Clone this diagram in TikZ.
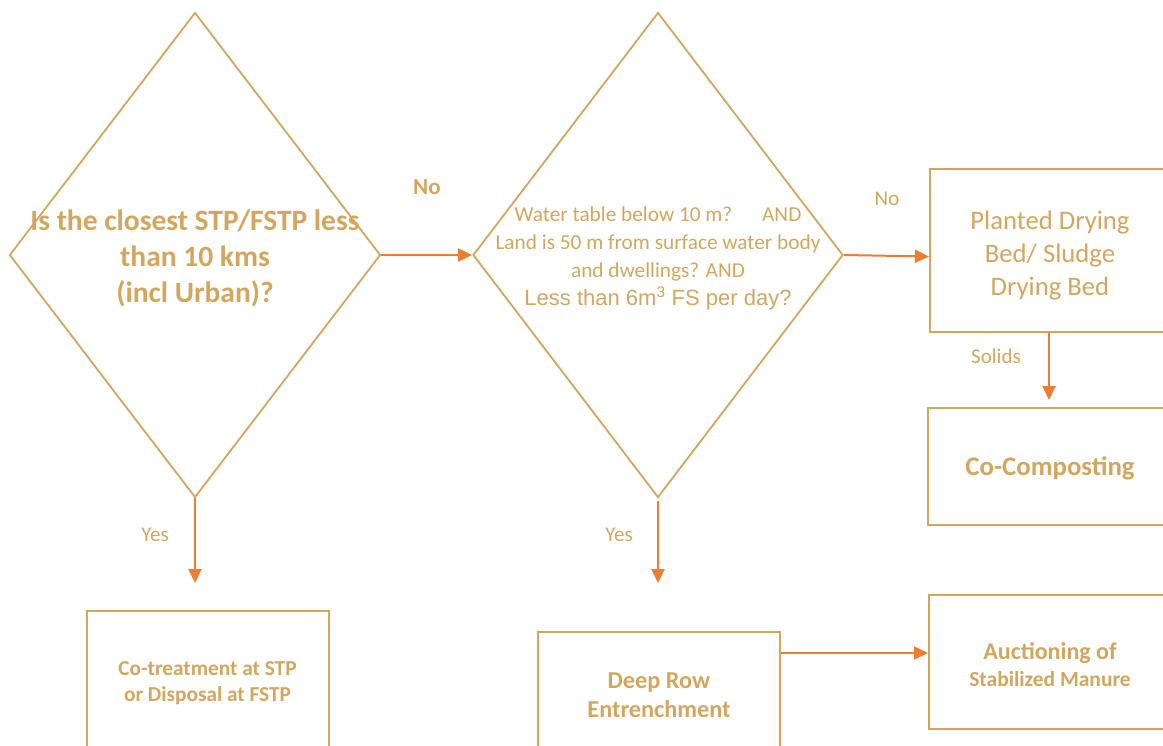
\documentclass[tikz,border=0pt]{standalone}
\usepackage{fontspec}
\setmainfont{Carlito}
\newfontfamily\arialfont{Liberation Sans}
\usetikzlibrary{arrows.meta,shapes.geometric}

\definecolor{tan}{RGB}{211,166,94}
\definecolor{flowor}{RGB}{237,125,49}

\newcommand{\topstrut}[1]{\rule{0pt}{#1}}

\tikzset{
  question/.style={diamond,draw=tan,line width=1.8pt,inner sep=0pt},
  stagebox/.style={rectangle,draw=tan,line width=2pt,text=tan,align=center,
    minimum width=242pt},
  flow/.style={draw=flowor,line width=2pt,-{Triangle[length=14pt,width=13pt]}},
  lbl/.style={text=tan,font=\fontsize{21}{24}\selectfont}
}

\begin{document}
\begin{tikzpicture}[x=1pt,y=-1pt]
    \useasboundingbox (0,0) rectangle (1163,745);

    % decisions
    \node[question,minimum width=371pt,minimum height=485pt] (q1) at (195,255) {};
    \node[text=tan,align=center,font=\bfseries\fontsize{29.5}{36}\selectfont] (q1txt) at (195,258)
      {Is the closest STP/FSTP less\\than 10 kms\\(incl Urban)?};
    \node[question,minimum width=370pt,minimum height=485pt] (q2) at (658,255) {};
    \node[text=tan,align=center,font=\fontsize{21.3}{28}\selectfont] (q2txt) at (658,258)
      {Water table below 10 m?\hspace{1.4em}AND\\Land is 50 m from surface water body\\
       and dwellings? AND\\{\arialfont\fontsize{22}{28}\selectfont Less than 6m\textsuperscript{3} FS per day?}};

    % outcomes
    \node[stagebox,minimum width=242pt,minimum height=136pt,
      font=\bfseries\fontsize{21.3}{26}\selectfont] (cotreat) at (207.5,679)
      {\topstrut{21.5pt}Co-treatment at STP\\or Disposal at FSTP};
    \node[stagebox,minimum height=123pt,
      font=\bfseries\fontsize{24.3}{29}\selectfont] (deep) at (659,693.5)
      {\topstrut{20pt}Deep Row\\Entrenchment};
    \node[stagebox,minimum width=240pt,minimum height=163pt,
      font=\fontsize{26.7}{33}\selectfont] (planted) at (1050,250.5)
      {\topstrut{28.5pt}Planted Drying\\Bed/ Sludge\\Drying Bed};
    \node[stagebox,minimum width=244pt,minimum height=117pt,text height=23pt,
      font=\bfseries\fontsize{26.8}{30}\selectfont] (compost) at (1050,466.5)
      {Co-Composting};
    \node[stagebox,minimum width=242pt,minimum height=134pt,
      font=\bfseries\fontsize{24}{27}\selectfont] (auction) at (1050,662)
      {\topstrut{22.5pt}Auctioning of\\{\fontsize{21.5}{27}\selectfont Stabilized Manure}};

    \coordinate (yes1) at (195,583);
    \coordinate (yes2) at (658,583);

    \draw[flow] (q1.east) -- (q2.west);
    \draw[flow] (q2.east) -- ([yshift=-6pt]planted.west);
    \draw[flow] (q1.south) -- (yes1);
    \draw[flow] ([yshift=-3pt]q2.south) -- (yes2);
    \draw[flow] (planted.south -| 1049,0) -- ([yshift=7pt]compost.north -| 1049,0);
    \draw[flow] ([yshift=-22pt]deep.north east) -- ([yshift=9pt]auction.west);

    \node[lbl,font=\bfseries\fontsize{23}{26}\selectfont] (no1) at (427,187) {No};
    \node[lbl] (no2) at (887,199) {No};
    \node[lbl] (yes1lbl) at (155,535) {Yes};
    \node[lbl] (yes2lbl) at (619,535) {Yes};
    \node[lbl] (solids) at (996,356) {Solids};
  \end{tikzpicture}
\end{document}
